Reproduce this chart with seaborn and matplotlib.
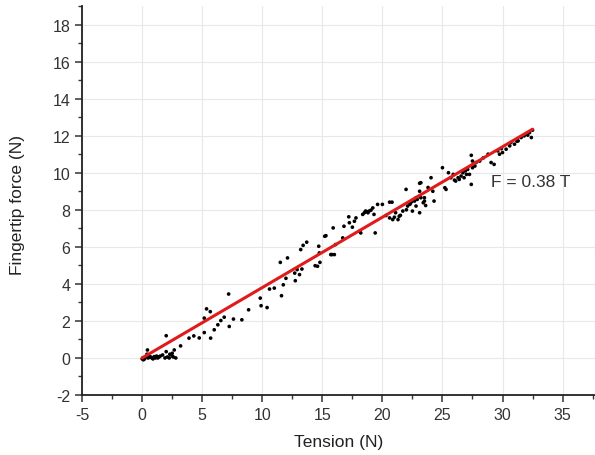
import numpy as np
import pandas as pd
import seaborn as sns
import matplotlib
matplotlib.use("Agg")
import matplotlib.pyplot as plt
from matplotlib.ticker import MultipleLocator

tension = [0.0, 0.1, 0.15, 0.2, 0.3, 0.35, 0.44, 0.5, 0.6, 0.7, 0.8, 1.0, 1.1, 1.3,
           1.5, 1.7, 2.0, 2.0, 2.1, 2.25, 2.5, 2.5, 2.67, 2.8, 3.2, 3.9, 4.3, 4.75,
           5.17, 5.17, 5.36, 5.67, 5.7, 6.0, 6.3, 6.55, 6.83, 7.2, 7.25, 7.6, 8.3,
           8.86, 9.83, 9.9, 10.4, 10.6, 11.0, 11.5, 11.6, 11.75, 11.97, 12.1, 12.7,
           12.75, 12.9, 13.1, 13.2, 13.3, 13.4, 13.7, 14.4, 14.6, 14.7, 14.75, 14.8,
           15.2, 15.3, 15.7, 15.8, 15.9, 16.0, 16.1, 16.7, 16.8, 17.2, 17.25, 17.5,
           17.67, 17.8, 18.1, 18.2, 18.36, 18.5, 18.6, 18.8, 18.9, 19.05, 19.3, 19.4,
           19.6, 20.0, 20.3, 20.6, 20.6, 20.8, 20.86, 21.1, 21.3, 21.4, 21.7, 21.97,
           22.0, 22.1, 22.25, 22.4, 22.5, 22.67, 22.8, 22.8, 22.9, 23.1, 23.1, 23.1,
           23.2, 23.2, 23.4, 23.5, 23.5, 23.6, 24.05, 24.2, 24.3, 25.0, 25.2, 25.3,
           25.5, 25.7, 25.9, 26.1, 26.3, 26.4, 26.55, 26.7, 26.8, 27.0, 27.1, 27.25,
           27.4, 27.4, 27.5, 27.5, 27.7, 27.8, 28.1, 28.8, 29.05, 29.3, 29.6, 29.75,
           30.0, 30.3, 30.6, 30.7, 31.0, 31.3, 31.55, 31.8, 32.1, 32.25, 32.4, 32.5,
           0.05, 0.25, 0.4, 0.9, 1.2, 1.4, 1.9, 2.3, 2.6, 18.7, 19.2, 21.0, 21.5,
           22.3, 23.8, 26.0, 26.9, 28.4, 29.9, 31.2]
force = [-0.05, -0.1, 0.0, -0.05, 0.05, 0.1, 0.43, 0.0, 0.1, 0.05, 0.0, 0.07, 0.0, 0.0,
         0.1, 0.16, 0.34, 1.2, 0.05, 0.0, 0.25, 0.1, 0.43, 0.0, 0.65, 1.07, 1.19, 1.08,
         1.37, 2.15, 2.65, 2.5, 1.07, 1.52, 1.79, 2.02, 2.2, 3.45, 1.7, 2.1, 2.06,
         2.6, 3.23, 2.82, 2.72, 3.72, 3.77, 5.16, 3.36, 3.95, 4.3, 5.4, 4.58,
         4.17, 4.77, 4.5, 5.85, 4.8, 6.08, 6.25, 4.98, 4.95, 6.03, 5.67, 5.16,
         6.57, 6.6, 5.58, 5.58, 7.02, 5.58, 6.12, 6.48, 7.11, 7.62, 7.3, 7.06,
         7.38, 7.56, 6.84, 6.75, 7.75, 7.84, 7.93, 7.84, 7.93, 7.98, 7.75, 6.75,
         8.29, 8.29, 7.69, 8.41, 7.56, 8.41, 7.47, 7.84, 7.47, 7.65, 7.93, 9.1,
         8.0, 8.2, 8.38, 8.41, 7.93, 8.47, 8.2, 8.65, 8.56, 9.43, 7.84, 9.0,
         8.65, 9.46, 8.38, 8.65, 8.47, 8.23, 9.73, 9.0, 8.47, 10.27, 9.19, 9.1,
         10.0, 9.73, 9.91, 9.55, 9.73, 9.64, 9.82, 10.0, 9.73, 9.91, 10.18, 9.91,
         9.37, 10.94, 10.63, 10.27, 10.36, 10.55, 10.63, 11.0, 10.55, 10.45, 11.18, 11.0,
         11.09, 11.27, 11.45, 11.63, 11.54, 11.72, 11.9, 11.99, 12.03, 12.17, 11.9, 12.3,
         0.0, 0.05, 0.2, -0.05, 0.1, 0.05, 0.0, 0.2, 0.05, 7.9, 8.1, 7.6, 7.7,
         8.3, 9.2, 9.6, 10.1, 10.8, 11.3, 11.7]

slope = 0.38
fit_t = [0.0, 32.5]
fit_f = [slope * t for t in fit_t]

pts = pd.DataFrame({"T": tension, "F": force})
fit = pd.DataFrame({"T": fit_t, "F": fit_f})

sns.set_theme(style="ticks")
plt.rcParams['font.family'] = ['Liberation Sans', 'DejaVu Sans']
plt.rcParams['axes.unicode_minus'] = False

fig = plt.figure(figsize=(5.95, 4.56), dpi=100)
ax = fig.add_axes([0.138, 0.1316, 0.862, 0.853])

sns.scatterplot(data=pts, x="T", y="F", ax=ax, color="black", s=7,
                edgecolor="none", zorder=3)
sns.lineplot(data=fit, x="T", y="F", ax=ax, color="#e01b1b", linewidth=2.2, zorder=4)

ax.set_xlim(-5, 37.7)
ax.set_ylim(-2, 19)
ax.xaxis.set_major_locator(MultipleLocator(5))
ax.xaxis.set_minor_locator(MultipleLocator(2.5))
ax.yaxis.set_major_locator(MultipleLocator(2))
ax.yaxis.set_minor_locator(MultipleLocator(1))
ax.grid(True, which="major", color="#e8e8e8", linewidth=0.8)
ax.set_axisbelow(True)

for s in ["top", "right"]:
    ax.spines[s].set_visible(False)
for s in ["left", "bottom"]:
    ax.spines[s].set_color("#222222")
    ax.spines[s].set_linewidth(1.3)

ax.tick_params(which="major", length=5, width=1.1, color="#333333",
               labelsize=11.5, labelcolor="#333333")
ax.tick_params(which="minor", length=3, width=1.0, color="#333333")

ax.set_xlabel("Tension (N)", fontsize=12.5, color="#222222", labelpad=9)
ax.set_ylabel("Fingertip force (N)", fontsize=12.5, color="#222222")
ax.yaxis.set_label_coords(-0.112, 0.49)

ax.text(29.0, 9.5, "F = 0.38 T", fontsize=12.5, color="#333333", va="center")

fig.savefig("out.png", dpi=100)
